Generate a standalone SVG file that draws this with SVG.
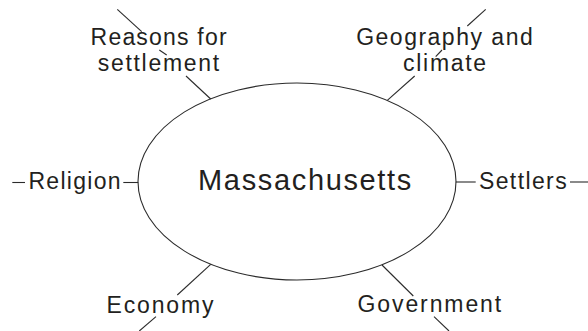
<svg xmlns="http://www.w3.org/2000/svg" width="588" height="331" viewBox="0 0 588 331">
<style>
.lbl{font-family:"Liberation Sans",Arial,sans-serif;font-size:23px;fill:#231f20;text-anchor:middle}
.main{font-family:"Liberation Sans",Arial,sans-serif;font-size:29px;fill:#231f20;text-anchor:middle;letter-spacing:1.65px}
.ln{stroke:#2b2b2b;stroke-width:1.1;fill:none}
</style>
<rect width="588" height="331" fill="#ffffff"/>
<g id="connectors">
<line class="ln" x1="117.3" y1="9.3" x2="141.7" y2="31.7"/>
<line class="ln" x1="159.3" y1="50" x2="166.7" y2="55"/>
<line class="ln" x1="186" y1="76" x2="210.7" y2="99"/>
<line class="ln" x1="485.7" y1="9.3" x2="467.3" y2="26"/>
<line class="ln" x1="442" y1="50" x2="435.7" y2="56.7"/>
<line class="ln" x1="414.7" y1="76" x2="387.3" y2="100.4"/>
<line class="ln" x1="12.3" y1="182.5" x2="25" y2="182.5"/>
<line class="ln" x1="123.3" y1="182.5" x2="138.2" y2="182.5"/>
<line class="ln" x1="455.8" y1="182" x2="475.7" y2="182"/>
<line class="ln" x1="570" y1="182" x2="588" y2="182"/>
<line class="ln" x1="210.7" y1="264.3" x2="177.3" y2="295"/>
<line class="ln" x1="156" y1="316.7" x2="139.3" y2="331"/>
<line class="ln" x1="382" y1="265" x2="413.3" y2="296"/>
<line class="ln" x1="434" y1="316.7" x2="449" y2="331"/>
</g>
<g id="massachusetts">
<ellipse class="ln" cx="297" cy="181.5" rx="159" ry="98.5"/>
<text class="main" x="305.5" y="190">Massachusetts</text>
</g>
<g id="reasons">
<text class="lbl" x="159.2" y="44.5" style="letter-spacing:1.2px">Reasons for</text>
<text class="lbl" x="159.3" y="70.7" style="letter-spacing:1.7px">settlement</text>
</g>
<g id="geography">
<text class="lbl" x="445.2" y="44.5" style="letter-spacing:1.5px">Geography and</text>
<text class="lbl" x="445.5" y="71" style="letter-spacing:1.7px">climate</text>
</g>
<g id="religion">
<text class="lbl" x="75.2" y="188.5" style="letter-spacing:1.3px">Religion</text>
</g>
<g id="settlers">
<text class="lbl" x="523.5" y="188.5" style="letter-spacing:1.4px">Settlers</text>
</g>
<g id="economy">
<text class="lbl" x="160.9" y="313" style="letter-spacing:1.85px">Economy</text>
</g>
<g id="government">
<text class="lbl" x="430.3" y="312" style="letter-spacing:1.9px">Government</text>
</g>
</svg>
